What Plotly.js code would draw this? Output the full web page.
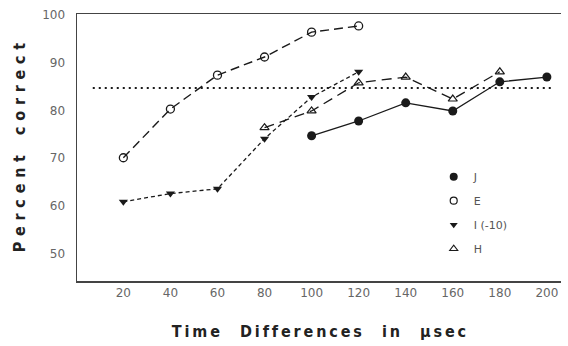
<!DOCTYPE html>
<html>
<head>
<meta charset="utf-8">
<script src="https://cdn.plot.ly/plotly-3.0.1.min.js"></script>
<style>
  html, body { margin: 0; padding: 0; background: #fff; }
  #chart { width: 568px; height: 346px; }
</style>
</head>
<body>
<div id="chart"></div>
<script>
// ---- data ----
const xJ = [100, 120, 140, 160, 180, 200];
const yJ = [74.7, 77.8, 81.6, 79.9, 86.0, 87.0];

const xE = [20, 40, 60, 80, 100, 120];
const yE = [70.1, 80.3, 87.4, 91.2, 96.4, 97.7];

const xI = [20, 40, 60, 80, 100, 120];
const yI = [60.9, 62.6, 63.6, 74.1, 82.8, 88.1];

const xH = [80, 100, 120, 140, 160, 180];
const yH = [76.4, 79.9, 85.8, 87.0, 82.4, 88.1];

const refX = [7, 202];
const refY = [84.7, 84.7];

const seriesNames = ['J', 'E', 'I (-10)', 'H'];
const xTicks = [20, 40, 60, 80, 100, 120, 140, 160, 180, 200];
const yTicks = [50, 60, 70, 80, 90, 100];

const ink = '#1a1a1a';
const sp = (s, g) => s.split('').join(g || '\u2009');
const wg = '\u00a0\u00a0\u00a0\u00a0';

const traces = [
  {x: refX, y: refY, mode: 'lines', showlegend: false, hoverinfo: 'skip',
   line: {color: ink, width: 2, dash: '2px,4px'}},
  {x: xE, y: yE, mode: 'lines+markers', showlegend: false,
   line: {color: ink, width: 1.4, dash: '9px,5px'},
   marker: {symbol: 'circle-open', size: 8, color: ink, line: {width: 1.3}}},
  {x: xI, y: yI, mode: 'lines+markers', showlegend: false,
   line: {color: ink, width: 1.3, dash: '4px,3px'},
   marker: {symbol: 'triangle-down', size: 8, color: ink}},
  {x: xH, y: yH, mode: 'lines+markers', showlegend: false,
   line: {color: ink, width: 1.3, dash: '10px,6px'},
   marker: {symbol: 'triangle-up-open', size: 8, color: ink, line: {width: 1.2}}},
  {x: xJ, y: yJ, mode: 'lines+markers', showlegend: false,
   line: {color: ink, width: 1.3},
   marker: {symbol: 'circle', size: 9, color: ink}},
  // legend entries (markers only)
  {x: [null], y: [null], mode: 'markers', name: seriesNames[0], legendgroup: 'a',
   marker: {symbol: 'circle', size: 8, color: ink}},
  {x: [null], y: [null], mode: 'markers', name: seriesNames[1], legendgroup: 'b',
   marker: {symbol: 'circle-open', size: 7, color: ink, line: {width: 1.2}}},
  {x: [null], y: [null], mode: 'markers', name: seriesNames[2], legendgroup: 'c',
   marker: {symbol: 'triangle-down', size: 7, color: ink}},
  {x: [null], y: [null], mode: 'markers', name: seriesNames[3], legendgroup: 'd',
   marker: {symbol: 'triangle-up-open', size: 7, color: ink, line: {width: 1.1}}}
];

const layout = {
  width: 568, height: 346,
  margin: {l: 77, r: 7, t: 14, b: 65},
  paper_bgcolor: '#fff', plot_bgcolor: '#fff',
  font: {family: 'DejaVu Sans, sans-serif', color: '#666'},
  xaxis: {
    range: [0.3, 206], tickvals: xTicks, ticks: '', showgrid: false, zeroline: false,
    showline: true, mirror: true, linecolor: '#444', linewidth: 1.5,
    tickfont: {size: 12, color: '#666'},
    title: {text: sp('Time') + wg + sp('Differences') + wg + sp('in') + wg + sp('μsec'),
            font: {family: 'DejaVu Sans Condensed, DejaVu Sans, sans-serif', size: 16, color: '#222', weight: 'bold'},
            standoff: 27}
  },
  yaxis: {
    range: [44.3, 100.2], tickvals: yTicks, ticks: '', showgrid: false, zeroline: false,
    showline: true, linecolor: '#444', linewidth: 1.5,
    tickfont: {size: 12, color: '#666'}, ticklabelstandoff: 8,
    title: {text: sp('Percent', '\u2009\u200a\u200a') + wg + sp('correct', '\u2009\u200a\u200a'),
            font: {family: 'DejaVu Sans Condensed, DejaVu Sans, sans-serif', size: 16, color: '#222', weight: 'bold'},
            standoff: 12}
  },
  legend: {
    x: 0.737, y: 0.445, xanchor: 'left', yanchor: 'top',
    bgcolor: 'rgba(0,0,0,0)', traceorder: 'grouped', tracegroupgap: 5,
    font: {size: 11, color: '#555'}
  },
  showlegend: true
};

Plotly.newPlot('chart', traces, layout, {staticPlot: true, displayModeBar: false});
</script>
</body>
</html>
